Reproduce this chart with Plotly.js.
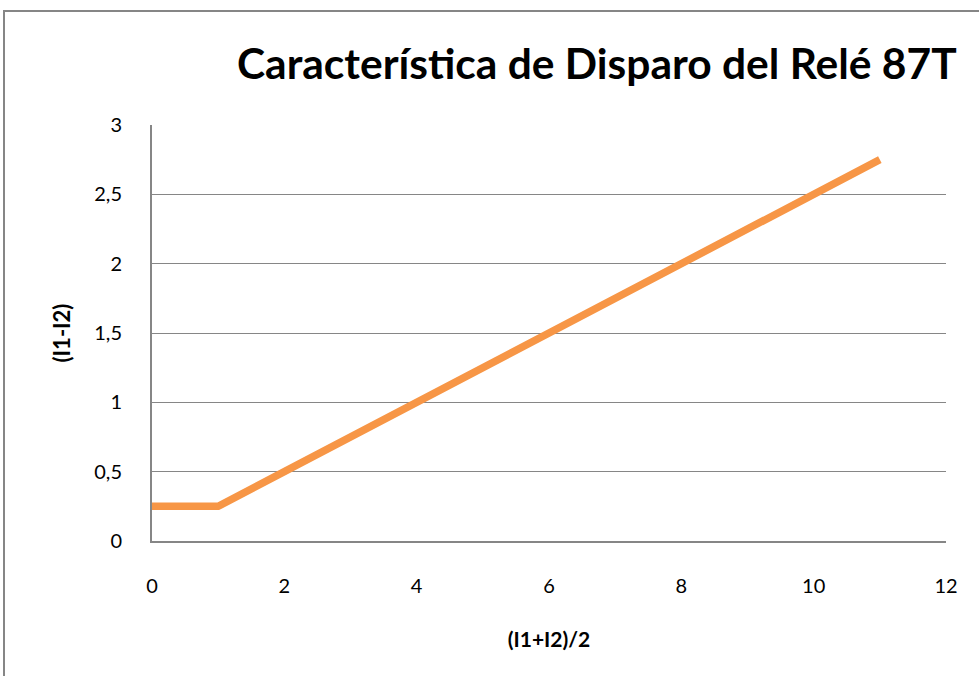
<!DOCTYPE html>
<html>
<head>
<meta charset="utf-8">
<script src="https://cdn.plot.ly/plotly-3.0.1.min.js"></script>
<style>html,body{margin:0;padding:0;background:#fff;overflow:hidden}#chart{width:979px;height:676px}</style>
</head>
<body>
<div id="chart"></div>
<script>
const xValues = [0, 1, 2, 3, 4, 5, 6, 7, 8, 9, 10, 11];
const yValues = [0.25, 0.25, 0.5, 0.75, 1, 1.25, 1.5, 1.75, 2, 2.25, 2.5, 2.75];
const titleText = 'Característica de Disparo del Relé 87T';
const xTitle = '(I1+I2)/2';
const yTitle = '(I1-I2)';

const fontFam = 'Lato, "Open Sans", sans-serif';
const trace = {
  x: xValues, y: yValues, type: 'scatter', mode: 'lines',
  line: {color: '#F79646', width: 7.5}, hoverinfo: 'skip'
};
const layout = {
  width: 979, height: 676,
  margin: {l: 152, r: 33, t: 125, b: 135},
  paper_bgcolor: '#fff', plot_bgcolor: '#fff',
  separators: ',.',
  showlegend: false,
  font: {family: fontFam, color: '#000', size: 20},
  title: {text: '<b>' + titleText + '</b>', font: {family: fontFam, size: 42.5, color: '#000'},
          xref: 'container', yref: 'container', x: 237/979, xanchor: 'left', y: 1 - 64/676, yanchor: 'middle'},
  xaxis: {range: [0, 12], dtick: 2, tick0: 0, showgrid: false, zeroline: false,
          showline: true, linecolor: '#868686', linewidth: 2, ticks: '', ticklabelstandoff: 26,
          title: {text: '<b>' + xTitle + '</b>', font: {size: 21}, standoff: 36}},
  yaxis: {range: [0, 3], dtick: 0.5, tick0: 0, showgrid: true, gridcolor: '#868686', gridwidth: 1,
          zeroline: false, showline: true, linecolor: '#868686', linewidth: 2, ticks: '', ticklabelstandoff: 24,
          title: {text: '<b>' + yTitle + '</b>', font: {size: 22}, standoff: 18}},
  shapes: [{type: 'rect', xref: 'paper', yref: 'paper',
            x0: (4 - 152)/794, x1: (1100 - 152)/794, y0: -(800 - 541)/416, y1: (541 - 11)/416,
            line: {color: '#868686', width: 2}, fillcolor: 'rgba(0,0,0,0)', layer: 'below'}]
};
Plotly.newPlot('chart', [trace], layout, {displayModeBar: false, staticPlot: true});
</script>
</body>
</html>
